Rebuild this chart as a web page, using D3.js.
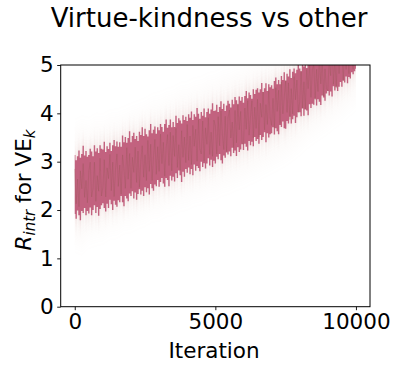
<!DOCTYPE html>
<html>
<head>
<meta charset="utf-8">
<script src="https://cdn.jsdelivr.net/npm/d3@7"></script>
<style>
  body { margin: 0; background: white; }
  text { font-family: "DejaVu Sans", sans-serif; fill: black; }
</style>
</head>
<body>
<div id="chart"></div>
<script>
// Iterationer, ett värde var 50:e steg
const iterations = d3.range(0, 10001, 50);

// Övre och undre kant för det täta bandet
const bandUpper = [
  3.14, 3.03, 3.11, 3.23, 3.08, 3.16, 3.33, 3.13, 3.22, 3.10,
  3.14, 3.27, 3.21, 3.11, 3.34, 3.21, 3.28, 3.18, 3.34, 3.27,
  3.25, 3.41, 3.20, 3.32, 3.26, 3.39, 3.22, 3.34, 3.45, 3.32,
  3.42, 3.31, 3.40, 3.31, 3.54, 3.40, 3.51, 3.39, 3.49, 3.63,
  3.40, 3.53, 3.60, 3.47, 3.53, 3.43, 3.62, 3.55, 3.71, 3.53,
  3.68, 3.57, 3.52, 3.65, 3.78, 3.59, 3.66, 3.73, 3.58, 3.71,
  3.65, 3.78, 3.72, 3.62, 3.78, 3.87, 3.70, 3.76, 3.87, 3.71,
  3.82, 3.72, 3.95, 3.80, 3.90, 3.85, 3.79, 3.96, 3.86, 3.93,
  3.84, 3.98, 3.91, 4.04, 3.86, 3.98, 3.93, 4.11, 3.99, 3.89,
  4.03, 3.95, 4.10, 3.92, 4.03, 4.10, 3.99, 4.08, 4.21, 4.05,
  4.06, 4.18, 4.03, 4.13, 4.25, 4.09, 4.20, 4.05, 4.16, 4.26,
  4.20, 4.12, 4.28, 4.19, 4.34, 4.27, 4.19, 4.35, 4.26, 4.34,
  4.22, 4.36, 4.46, 4.31, 4.43, 4.38, 4.30, 4.50, 4.40, 4.49,
  4.52, 4.43, 4.50, 4.63, 4.44, 4.52, 4.62, 4.46, 4.60, 4.54,
  4.58, 4.51, 4.67, 4.74, 4.60, 4.69, 4.60, 4.77, 4.69, 4.85,
  4.68, 4.82, 4.76, 4.91, 4.73, 4.86, 4.93, 4.83, 4.90, 5.04,
  4.93, 4.87, 5.06, 4.97, 5.06, 4.94, 5.07, 5.19, 5.06, 5.19,
  5.12, 5.20, 5.09, 5.23, 5.16, 5.27, 5.18, 5.24, 5.31, 5.22,
  5.30, 5.36, 5.26, 5.40, 5.33, 5.44, 5.35, 5.41, 5.48, 5.38,
  5.50, 5.56, 5.46, 5.60, 5.53, 5.64, 5.55, 5.61, 5.68, 5.58, 5.70
];

const bandLower = [
  1.92, 1.82, 1.99, 1.89, 1.79, 1.98, 1.94, 2.04, 1.89, 1.98,
  1.93, 2.05, 1.89, 2.00, 2.10, 1.94, 2.06, 1.88, 2.02, 2.10,
  2.14, 2.04, 1.97, 2.13, 2.04, 2.21, 2.12, 2.00, 2.19, 2.11,
  2.07, 2.20, 2.16, 2.29, 2.16, 2.08, 2.29, 2.24, 2.18, 2.34,
  2.29, 2.39, 2.24, 2.36, 2.21, 2.33, 2.43, 2.32, 2.40, 2.29,
  2.47, 2.37, 2.45, 2.32, 2.54, 2.45, 2.40, 2.53, 2.49, 2.62,
  2.48, 2.58, 2.66, 2.55, 2.48, 2.66, 2.62, 2.49, 2.71, 2.61,
  2.69, 2.59, 2.76, 2.66, 2.82, 2.72, 2.58, 2.79, 2.69, 2.85,
  2.77, 2.88, 2.74, 2.85, 2.72, 2.94, 2.81, 2.91, 2.87, 2.80,
  3.00, 2.89, 2.97, 2.86, 2.96, 3.07, 2.92, 3.04, 2.89, 3.02,
  2.96, 3.10, 3.05, 3.16, 3.03, 2.96, 3.13, 3.08, 3.19, 3.15,
  3.21, 3.11, 3.29, 3.18, 3.23, 3.12, 3.30, 3.20, 3.25, 3.36,
  3.24, 3.37, 3.31, 3.23, 3.43, 3.34, 3.41, 3.32, 3.51, 3.43,
  3.47, 3.37, 3.55, 3.45, 3.51, 3.61, 3.40, 3.59, 3.50, 3.57,
  3.59, 3.71, 3.56, 3.69, 3.63, 3.57, 3.76, 3.72, 3.83, 3.69,
  3.68, 3.84, 3.79, 3.93, 3.79, 3.88, 3.95, 3.80, 3.92, 4.03,
  4.02, 3.94, 4.10, 3.95, 4.08, 4.06, 3.96, 4.19, 4.11, 4.20,
  4.18, 4.30, 4.16, 4.29, 4.24, 4.17, 4.37, 4.33, 4.26, 4.41,
  4.46, 4.37, 4.45, 4.35, 4.56, 4.47, 4.55, 4.46, 4.55, 4.65,
  4.55, 4.68, 4.64, 4.76, 4.62, 4.75, 4.72, 4.85, 4.81, 4.87, 4.92
];

// Själva brusiga kurvan
const rewardLine = [
  2.85, 2.13, 2.64, 2.07, 2.81, 2.44, 2.96, 2.26, 2.61, 2.15,
  2.80, 2.99, 2.27, 2.45, 2.99, 2.18, 2.71, 2.39, 3.07, 2.29,
  2.46, 3.04, 2.27, 2.87, 2.65, 3.15, 2.40, 2.99, 2.28, 2.85,
  3.16, 2.49, 2.93, 2.33, 3.14, 2.84, 2.45, 3.29, 2.64, 3.17,
  2.45, 3.09, 2.78, 3.30, 2.57, 3.22, 2.47, 3.02, 3.33, 2.68,
  3.14, 2.61, 3.44, 2.80, 3.36, 2.61, 3.10, 3.46, 2.74, 3.31,
  2.80, 3.57, 2.96, 3.40, 2.70, 3.29, 3.56, 2.92, 3.61, 2.81,
  3.54, 3.11, 3.69, 2.88, 3.35, 2.82, 3.64, 3.09, 3.51, 2.98,
  3.77, 3.03, 3.53, 2.94, 3.75, 3.32, 3.67, 3.01, 3.87, 3.26,
  3.16, 3.84, 3.01, 3.70, 3.36, 3.91, 3.15, 3.61, 3.11, 3.86,
  3.74, 3.16, 3.93, 3.33, 4.05, 3.56, 3.25, 3.94, 3.21, 3.91,
  4.07, 3.49, 3.82, 3.29, 4.06, 3.39, 4.20, 3.66, 4.04, 3.40,
  3.36, 4.11, 3.67, 4.26, 3.55, 3.93, 4.26, 3.49, 4.13, 3.69,
  4.29, 3.51, 4.21, 3.92, 4.44, 3.66, 4.18, 3.77, 4.47, 3.91,
  3.75, 4.31, 3.70, 4.53, 4.04, 4.48, 3.79, 4.65, 3.99, 4.33,
  4.67, 4.02, 4.63, 3.87, 4.51, 3.99, 4.76, 4.28, 4.69, 4.01,
  4.23, 4.87, 4.11, 4.65, 4.09, 4.91, 4.51, 5.03, 4.33, 4.90,
  5.03, 4.28, 4.91, 4.45, 5.19, 4.61, 5.09, 4.36, 4.92, 4.51,
  4.47, 5.15, 4.78, 5.34, 4.60, 5.14, 4.52, 5.38, 4.82, 5.37,
  5.22, 4.67, 5.52, 4.91, 5.47, 4.82, 5.67, 5.16, 4.91, 5.52, 5.02
];

// Det svaga yttre bandet, var 250:e steg
const outerIterations = d3.range(0, 10001, 250);
const outerUpper = [
  3.58, 3.66, 3.62, 3.71, 3.70, 3.78, 3.80, 3.85, 3.92, 3.97,
  4.03, 4.12, 4.15, 4.22, 4.26, 4.35, 4.37, 4.44, 4.47, 4.55,
  4.58, 4.66, 4.70, 4.77, 4.80, 4.88, 4.94, 5.02, 5.07, 5.15,
  5.22, 5.30, 5.40, 5.50, 5.62, 5.70, 5.80, 5.92, 6.02, 6.15, 6.27
];
const outerLower = [
  1.42, 1.36, 1.50, 1.55, 1.58, 1.68, 1.70, 1.80, 1.82, 1.90,
  1.95, 2.04, 2.06, 2.15, 2.18, 2.26, 2.29, 2.37, 2.40, 2.48,
  2.50, 2.58, 2.62, 2.70, 2.74, 2.82, 2.88, 2.97, 3.04, 3.12,
  3.20, 3.30, 3.42, 3.55, 3.66, 3.76, 3.86, 3.98, 4.08, 4.22, 4.34
];

const xTicks = [0, 5000, 10000];
const yTicks = [0, 1, 2, 3, 4, 5];

const width = 399, height = 372;
const margin = {top: 65, right: 29, bottom: 65.3, left: 60.7};

const svg = d3.select("#chart").append("svg")
  .attr("width", width)
  .attr("height", height);

const x = d3.scaleLinear().domain([-500, 10500]).range([margin.left, width - margin.right]);
const y = d3.scaleLinear().domain([0, 5]).range([height - margin.bottom, margin.top]);

const defs = svg.append("defs");
defs.append("clipPath").attr("id", "plotclip")
  .append("rect")
  .attr("x", margin.left).attr("y", margin.top)
  .attr("width", width - margin.left - margin.right)
  .attr("height", height - margin.top - margin.bottom);

// vertikal oskärpa så att kanterna tonar ut
defs.append("filter").attr("id", "halo")
  .attr("x", "-5%").attr("y", "-50%").attr("width", "110%").attr("height", "200%")
  .append("feGaussianBlur").attr("stdDeviation", "0.6 9");
defs.append("filter").attr("id", "soft")
  .attr("x", "-5%").attr("y", "-50%").attr("width", "110%").attr("height", "200%")
  .append("feGaussianBlur").attr("stdDeviation", "0.5 10");

const plot = svg.append("g").attr("clip-path", "url(#plotclip)");

const outerArea = d3.area()
  .x((d, i) => x(outerIterations[i]))
  .y0((d, i) => y(outerLower[i]))
  .y1((d, i) => y(outerUpper[i]));

plot.append("path")
  .datum(outerIterations)
  .attr("d", outerArea)
  .attr("fill", "#d2a898")
  .attr("opacity", 0.06)
  .attr("filter", "url(#soft)");

// Trappsteg ger smala lodräta streck i stället för sågtänder
const bandArea = d3.area()
  .curve(d3.curveStep)
  .x((d, i) => x(iterations[i]))
  .y0((d, i) => y(bandLower[i]))
  .y1((d, i) => y(bandUpper[i]));

plot.append("path")
  .datum(iterations)
  .attr("d", bandArea)
  .attr("fill", "#c98a8a")
  .attr("opacity", 0.3)
  .attr("filter", "url(#halo)");

plot.append("path")
  .datum(iterations)
  .attr("d", bandArea)
  .attr("fill", "#c2627f");

const line = d3.line()
  .x((d, i) => x(iterations[i]))
  .y((d, i) => y(rewardLine[i]));

plot.append("path")
  .datum(iterations)
  .attr("d", line)
  .attr("fill", "none")
  .attr("stroke", "#8c564b")
  .attr("stroke-width", 0.6)
  .attr("opacity", 0.4);

// Axlar
const xAxis = svg.append("g")
  .attr("transform", `translate(0,${height - margin.bottom})`)
  .call(d3.axisBottom(x).tickValues(xTicks).tickSize(3.5).tickPadding(3.5).tickFormat(d3.format("d")));

const yAxis = svg.append("g")
  .attr("transform", `translate(${margin.left},0)`)
  .call(d3.axisLeft(y).tickValues(yTicks).tickSize(3.5).tickPadding(3.5).tickFormat(d3.format("d")));

[xAxis, yAxis].forEach(a => {
  a.select(".domain").remove();
  a.selectAll(".tick line").attr("stroke", "black").attr("stroke-width", 0.9);
  a.selectAll(".tick text")
    .attr("font-family", "DejaVu Sans")
    .attr("font-size", 21.5)
    .attr("fill", "black");
});

// Ram runt plotten
svg.append("rect")
  .attr("x", margin.left).attr("y", margin.top)
  .attr("width", width - margin.left - margin.right)
  .attr("height", height - margin.top - margin.bottom)
  .attr("fill", "none")
  .attr("stroke", "black")
  .attr("stroke-width", 1);

svg.append("text")
  .attr("x", 209).attr("y", 27)
  .attr("text-anchor", "middle")
  .attr("font-size", 26)
  .text("Virtue-kindness vs other");

svg.append("text")
  .attr("x", 214).attr("y", 358)
  .attr("text-anchor", "middle")
  .attr("font-size", 21.5)
  .text("Iteration");

const ylab = svg.append("text")
  .attr("transform", "translate(31,190) rotate(-90)")
  .attr("text-anchor", "middle")
  .attr("font-size", 21.5);
ylab.append("tspan").attr("font-style", "italic").text("R");
ylab.append("tspan").attr("font-style", "italic").attr("font-size", 15)
  .attr("dy", 4).text("intr");
ylab.append("tspan").attr("dy", -4).text(" for VE");
ylab.append("tspan").attr("font-style", "italic").attr("font-size", 15)
  .attr("dy", 4).text("k");
</script>
</body>
</html>
